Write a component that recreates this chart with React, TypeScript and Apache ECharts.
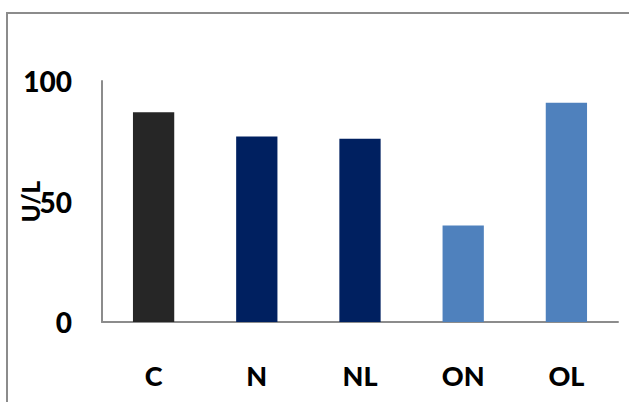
import React, { useEffect, useRef } from "react";
import * as echarts from "echarts";

const categories = ["C", "N", "NL", "ON", "OL"];
const values = [87, 77, 76, 40, 91];
const barColors = ["#262626", "#002060", "#002060", "#4F81BD", "#4F81BD"];
const yTicks = { min: 0, max: 100, interval: 50 };

export default function App() {
  const ref = useRef<HTMLDivElement>(null);
  useEffect(() => {
    if (!ref.current) return;
    const chart = echarts.init(ref.current, undefined, { renderer: "svg" });
    const font = "Lato";
    const weight = 900;
    chart.setOption({
      animation: false,
      backgroundColor: "#ffffff",
      graphic: [
        {
          type: "rect",
          shape: { x: 7, y: 13, width: 800, height: 600 },
          style: { fill: "none", stroke: "#8c8c8c", lineWidth: 2 },
          silent: true,
        },
      ],
      grid: {
        left: 102,
        right: 11,
        top: 81,
        bottom: 80,
        containLabel: false,
        outerBoundsMode: "none",
      },
      xAxis: {
        type: "category",
        data: categories,
        axisLine: { show: true, lineStyle: { color: "#8c8c8c", width: 2 } },
        axisTick: { show: false },
        axisLabel: {
          color: "#000",
          fontFamily: font,
          fontWeight: weight,
          fontSize: 27,
          margin: 40,
        },
      },
      yAxis: {
        type: "value",
        min: yTicks.min,
        max: yTicks.max,
        interval: yTicks.interval,
        name: "U/L",
        nameLocation: "middle",
        nameRotate: 90,
        nameGap: 60,
        nameMoveOverlap: false,
        nameTextStyle: {
          color: "#000",
          fontFamily: font,
          fontWeight: weight,
          fontSize: 24,
        },
        axisLine: { show: true, lineStyle: { color: "#8c8c8c", width: 2 } },
        axisTick: { show: false },
        splitLine: { show: false },
        axisLabel: {
          color: "#000",
          fontFamily: font,
          fontWeight: weight,
          fontSize: 28,
          margin: 30,
        },
      },
      series: [
        {
          type: "bar",
          barWidth: "40%",
          data: values.map((v, i) => ({ value: v, itemStyle: { color: barColors[i] } })),
        },
      ],
    });
    return () => chart.dispose();
  }, []);
  return (
    <div
      ref={ref}
      style={{ position: "fixed", left: 0, top: 0, width: 629, height: 402 }}
    />
  );
}
